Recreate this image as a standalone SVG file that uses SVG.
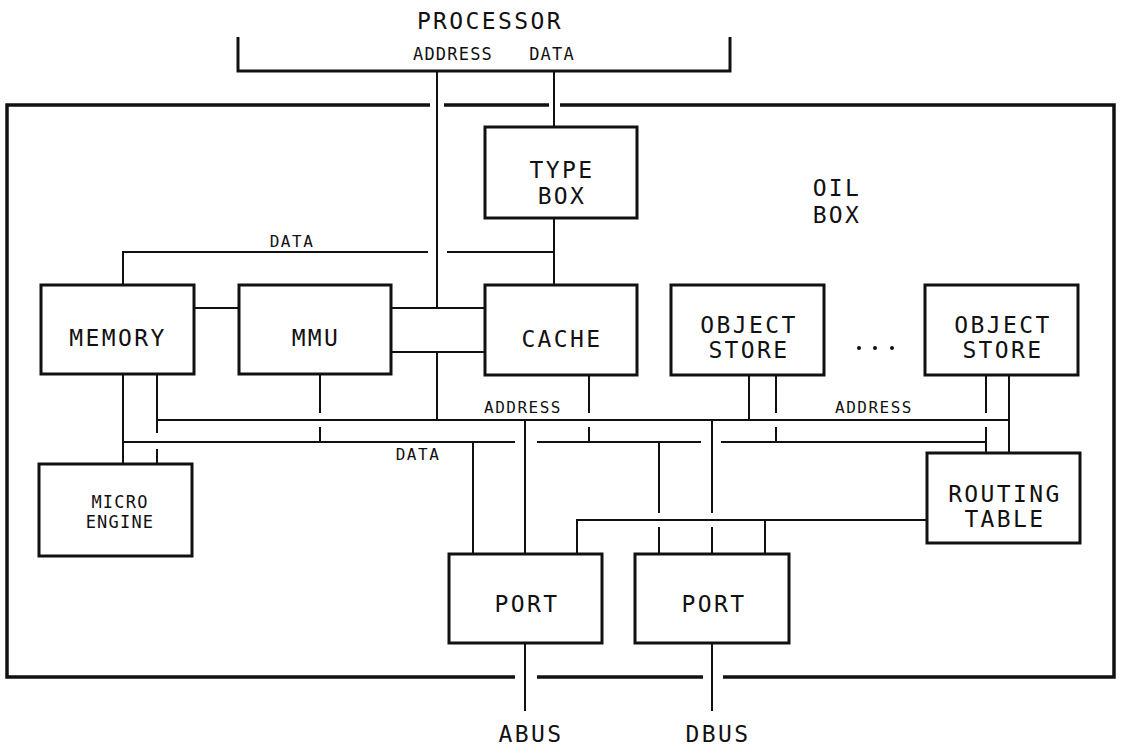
<svg xmlns="http://www.w3.org/2000/svg" width="1121" height="749" viewBox="0 0 1121 749">
<style>
  .bg { fill: #ffffff; }
  .box { fill: #ffffff; stroke: #111; stroke-width: 3; }
  .oil { fill: none; stroke: #111; stroke-width: 3.5; }
  .bracket { fill: none; stroke: #111; stroke-width: 3; }
  .wire { fill: none; stroke: #111; stroke-width: 2; }
  .lbl { font-family: "DejaVu Sans Mono", "Liberation Mono", monospace; font-size: 23px; letter-spacing: 2.4px; fill: #111; text-anchor: middle; }
  .small { font-family: "DejaVu Sans Mono", "Liberation Mono", monospace; font-size: 16px; letter-spacing: 1.5px; fill: #111; text-anchor: middle; }
  .mid { font-family: "DejaVu Sans Mono", "Liberation Mono", monospace; font-size: 17px; letter-spacing: 1.2px; fill: #111; text-anchor: middle; }
</style>
<rect class="bg" x="0" y="0" width="1121" height="749"/>

<g id="processor">
  <path class="bracket" d="M238,37 V71 H730 V37"/>
  <text class="lbl" x="490" y="29">PROCESSOR</text>
  <text class="mid" x="453" y="60">ADDRESS</text>
  <text class="mid" x="552" y="60">DATA</text>
</g>

<g id="oil-box">
  <path class="oil" d="M430,105 H7 V677 H515 M537,677 H703 M723,677 H1114 V105 H560 M549,105 H444"/>
  <text class="lbl" x="837" y="196">OIL</text>
  <text class="lbl" x="837" y="223">BOX</text>
</g>

<g id="connectors">
  <path class="wire" d="M437,71 V308"/>
  <path class="wire" d="M554,71 V127"/>
  <path class="wire" d="M554,218 V285"/>
  <path class="wire" d="M123,285 V252 H428 M447,252 H554"/>
  <path class="wire" d="M194,308 H239"/>
  <path class="wire" d="M391,308 H485 M391,352 H485"/>
  <path class="wire" d="M437,352 V420"/>
  <path class="wire" d="M157,420 H1009"/>
  <path class="wire" d="M123,442 H515 M537,442 H701 M721,442 H986"/>
  <path class="wire" d="M123,374 V464"/>
  <path class="wire" d="M157,374 V433 M157,449 V464"/>
  <path class="wire" d="M320,374 V413 M320,427 V442"/>
  <path class="wire" d="M589,375 V413 M589,427 V442"/>
  <path class="wire" d="M749,375 V420"/>
  <path class="wire" d="M776,375 V413 M776,427 V442"/>
  <path class="wire" d="M986,375 V413 M986,427 V453"/>
  <path class="wire" d="M1009,375 V453"/>
  <path class="wire" d="M473,442 V554"/>
  <path class="wire" d="M525,420 V554"/>
  <path class="wire" d="M659,442 V513 M659,527 V554"/>
  <path class="wire" d="M712,420 V513 M712,527 V554"/>
  <path class="wire" d="M927,520 H577 V554 M765,520 V554"/>
  <path class="wire" d="M525,643 V711"/>
  <path class="wire" d="M712,643 V711"/>
  <text class="small" x="292" y="247">DATA</text>
  <text class="small" x="523" y="413">ADDRESS</text>
  <text class="small" x="874" y="413">ADDRESS</text>
  <text class="small" x="418" y="460">DATA</text>
</g>

<g id="type-box">
  <rect class="box" x="485" y="127" width="152" height="91"/>
  <text class="lbl" x="562" y="178">TYPE</text>
  <text class="lbl" x="562" y="204">BOX</text>
</g>

<g id="memory">
  <rect class="box" x="41" y="285" width="153" height="89"/>
  <text class="lbl" x="118" y="346">MEMORY</text>
</g>

<g id="mmu">
  <rect class="box" x="239" y="285" width="152" height="89"/>
  <text class="lbl" x="316" y="346">MMU</text>
</g>

<g id="cache">
  <rect class="box" x="485" y="285" width="152" height="90"/>
  <text class="lbl" x="562" y="347">CACHE</text>
</g>

<g id="object-store-1">
  <rect class="box" x="671" y="285" width="153" height="90"/>
  <text class="lbl" x="749" y="333">OBJECT</text>
  <text class="lbl" x="749" y="358">STORE</text>
</g>

<g id="ellipsis">
  <circle cx="859" cy="348" r="2" fill="#111"/>
  <circle cx="875" cy="348" r="2" fill="#111"/>
  <circle cx="892" cy="348" r="2" fill="#111"/>
</g>

<g id="object-store-2">
  <rect class="box" x="925" y="285" width="153" height="90"/>
  <text class="lbl" x="1003" y="333">OBJECT</text>
  <text class="lbl" x="1003" y="358">STORE</text>
</g>

<g id="micro-engine">
  <rect class="box" x="39" y="464" width="153" height="92"/>
  <text class="mid" x="120" y="508">MICRO</text>
  <text class="mid" x="120" y="528">ENGINE</text>
</g>

<g id="routing-table">
  <rect class="box" x="927" y="453" width="153" height="90"/>
  <text class="lbl" x="1005" y="502">ROUTING</text>
  <text class="lbl" x="1005" y="527">TABLE</text>
</g>

<g id="port-abus">
  <rect class="box" x="449" y="554" width="153" height="89"/>
  <text class="lbl" x="527" y="612">PORT</text>
</g>

<g id="port-dbus">
  <rect class="box" x="635" y="554" width="154" height="89"/>
  <text class="lbl" x="714" y="612">PORT</text>
</g>

<g id="bus-labels">
  <text class="lbl" x="531" y="742">ABUS</text>
  <text class="lbl" x="718" y="742">DBUS</text>
</g>
</svg>
